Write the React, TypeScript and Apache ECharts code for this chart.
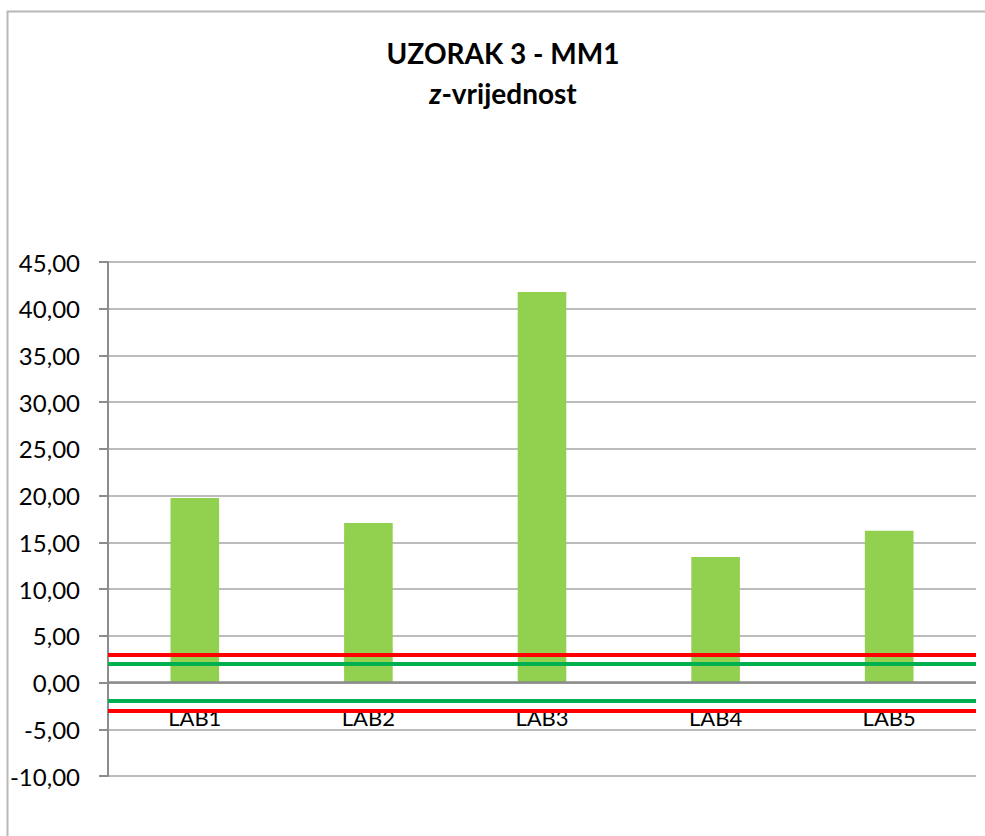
import React, { useEffect, useRef } from "react";
import * as echarts from "echarts";

const categories = ["LAB1", "LAB2", "LAB3", "LAB4", "LAB5"];
const zValues = [19.75, 17.07, 41.79, 13.43, 16.24];
const redLimits = [3, -3];
const greenLimits = [2, -2];
const zeroLine = [0];
const titleLine1 = "UZORAK 3 - MM1";
const titleLine2Italic = "z";
const titleLine2Rest = "-vrijednost";

const FONT = "Lato, 'Open Sans', sans-serif";

export default function App() {
  const ref = useRef<HTMLDivElement>(null);
  useEffect(() => {
    if (!ref.current) return;
    const chart = echarts.init(ref.current, undefined, { renderer: "svg" });
    const limitLine = (vals: number[], color: string, width: number) =>
      vals.map((v) => ({ yAxis: v, lineStyle: { color, width, type: "solid" } }));
    chart.setOption({
      animation: false,
      backgroundColor: "#ffffff",
      textStyle: { fontFamily: FONT },
      graphic: [
        {
          type: "rect",
          shape: { x: 7.5, y: 11.5, width: 1100, height: 1000 },
          style: { fill: "none", stroke: "#b8b8b8", lineWidth: 2 },
          silent: true,
        },
      ],
      title: {
        left: 503,
        top: 33,
        padding: 0,
        textAlign: "center",
        text: `{a|${titleLine1}}\n{i|${titleLine2Italic}}{a|${titleLine2Rest}}`,
        textStyle: {
          rich: {
            a: { fontFamily: FONT, fontSize: 28, fontWeight: "bold", color: "#000", lineHeight: 40 },
            i: { fontFamily: FONT, fontSize: 28, fontWeight: "bold", fontStyle: "italic", color: "#000", lineHeight: 40 },
          },
        },
      },
      grid: { left: 108, right: 9, top: 262, bottom: 60, containLabel: false },
      xAxis: {
        type: "category",
        data: categories,
        axisLine: { show: false },
        axisTick: { show: false },
        axisLabel: { show: false },
        splitLine: { show: false },
      },
      yAxis: {
        type: "value",
        min: -10,
        max: 45,
        interval: 5,
        axisLine: { show: true, lineStyle: { color: "#8c8c8c", width: 2 } },
        axisTick: { show: true, length: 9, lineStyle: { color: "#8c8c8c", width: 2 } },
        axisLabel: {
          fontFamily: FONT,
          fontSize: 24,
          color: "#000",
          margin: 28,
          formatter: (v: number) => v.toFixed(2).replace(".", ","),
        },
        splitLine: { show: true, lineStyle: { color: "#a6a6a6", width: 1.5 } },
      },
      series: [
        {
          type: "scatter",
          data: categories.map((c) => ({ name: c, value: [c, 0] })),
          symbolSize: 0,
          silent: true,
          z: 1,
          itemStyle: { opacity: 1 },
          label: {
            show: true,
            position: "bottom",
            distance: 24,
            opacity: 1,
            formatter: (p: any) => p.name,
            fontFamily: FONT,
            fontSize: 22,
            color: "#000000",
          },
        },
        {
          type: "bar",
          data: zValues,
          barWidth: "28%",
          z: 2,
          itemStyle: { color: "#92D050" },
          markLine: {
            silent: true,
            symbol: ["none", "none"],
            label: { show: false },
            data: [
              ...limitLine(zeroLine, "#8c8c8c", 2.5),
              ...limitLine(greenLimits, "#00B050", 4),
              ...limitLine(redLimits, "#FF0000", 4),
            ],
          },
        },
      ],
    });
    return () => chart.dispose();
  }, []);
  return (
    <div
      ref={ref}
      style={{ position: "fixed", left: 0, top: 0, width: 985, height: 836 }}
    />
  );
}
